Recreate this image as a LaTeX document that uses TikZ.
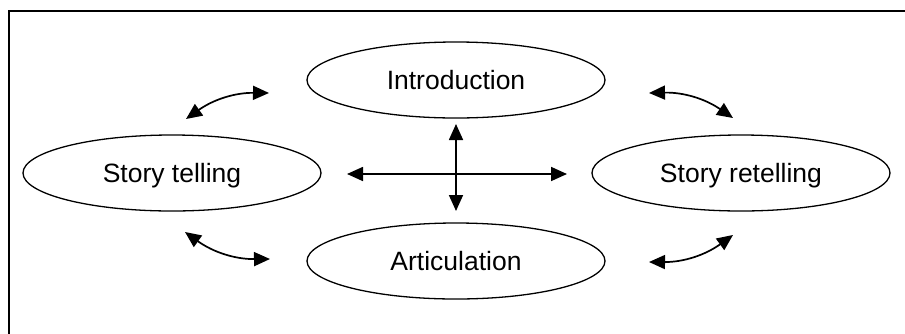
\documentclass[tikz,border=0pt]{standalone}
\usepackage{fontspec}
\setmainfont{Liberation Sans}
\usetikzlibrary{shapes.geometric,arrows.meta}

\tikzset{
  stage/.style={draw, ellipse, line width=1.3pt, minimum width=298pt,
    minimum height=76pt, inner sep=0pt, text height=18.7pt, text depth=0pt,
    font=\fontsize{26.5}{30}\selectfont},
  link/.style={line width=1.7pt, {Triangle[length=16pt,width=14pt]}-{Triangle[length=16pt,width=14pt]}},
  frame/.style={line width=2pt}
}

\begin{document}
\begin{tikzpicture}[x=1pt, y=-1pt]
  \useasboundingbox (0,0) rectangle (905,333);

  % outer frame, open at the right and bottom edges
  \draw[frame] (915,11) -- (9,11) -- (9,345);

  % the four stages
  \node[stage] (intro)  at (456,80)  {Introduction};
  \node[stage] (tell)   at (172,173) {Story telling};
  \node[stage] (retell) at (741,173) {Story retelling};
  \node[stage] (artic)  at (456,261) {Articulation};

  % end points of the connectors
  \coordinate (tlA) at (186,119);
  \coordinate (tlB) at (269,93);
  \coordinate (trA) at (649,93);
  \coordinate (trB) at (733,118);
  \coordinate (blA) at (185,232);
  \coordinate (blB) at (270,259);
  \coordinate (brA) at (649,262);
  \coordinate (brB) at (733,235);
  \coordinate (hL) at (347,174);
  \coordinate (hR) at (567,174);
  \coordinate (vT) at (456,124);
  \coordinate (vB) at (456,211);

  % curved two-way links between neighbouring stages
  \draw[link] (tlA) to[bend left=18] (tlB);
  \draw[link] (trA) to[bend left=18] (trB);
  \draw[link] (blA) to[bend right=18] (blB);
  \draw[link] (brA) to[bend right=18] (brB);

  % central cross
  \draw[link] (hL) -- (hR);
  \draw[link] (vT) -- (vB);
\end{tikzpicture}
\end{document}
